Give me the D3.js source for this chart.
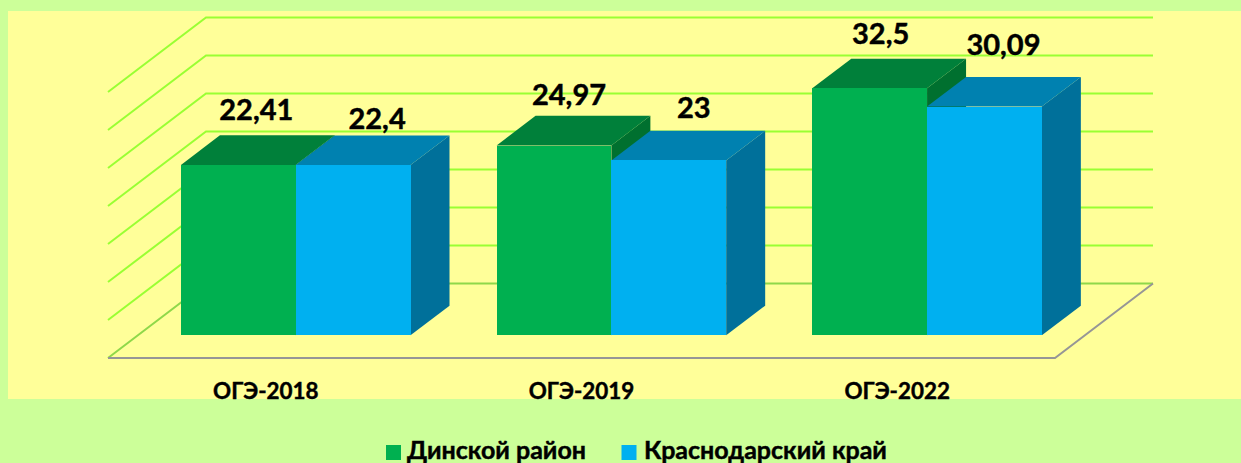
<!DOCTYPE html>
<html><head><meta charset="utf-8">
<script src="https://cdn.jsdelivr.net/npm/d3@7"></script>
<style>html,body{margin:0;padding:0;background:#CCFF99;overflow:hidden}svg{display:block}text{font-family:Lato,"Open Sans",sans-serif;font-weight:700;fill:#000;stroke:#000;stroke-width:.45px}</style>
</head><body><svg id="c" width="1241" height="463"></svg>
<script>
const categories = ["ОГЭ-2018", "ОГЭ-2019", "ОГЭ-2022"];
const seriesNames = ["Динской район", "Краснодарский край"];
const dinskoy = [22.41, 24.97, 32.5];
const krasnodar = [22.4, 23, 30.09];
const valueLabels = [["22,41","24,97","32,5"],["22,4","23","30,09"]];
const yTicks = [0,5,10,15,20,25,30,35];

const seriesValues = [dinskoy, krasnodar];
const front = ["#00B050", "#00B0F0"], topC = ["#00803A", "#0081B0"], side = ["#00702F", "#00709A"];
const labelNudge = [[[18,-45],[15,-41],[11,-44]],[[24,-36],[25,-42],[19,-52]]];

const svg = d3.select("#c");
svg.append("rect").attr("x",8).attr("y",11).attr("width",1233).attr("height",388).attr("fill","#FFFF99");

const x0 = d3.scaleBand().domain(categories).range([108,1055]);
const x1 = d3.scaleBand().domain([0,1]).range([0,x0.bandwidth()]).paddingInner(0).paddingOuter(0.375);
const y = d3.scaleLinear().domain([0,35]).range([358,92]);
const DX = 98, DY = -74.5;
const P = (px,py,z)=>[px+DX*z, py+DY*z];
const line = d3.line();

yTicks.forEach(t=>{
  const pts=[P(108,y(t),0),P(108,y(t),1),P(1055,y(t),1)];
  svg.append("path").attr("d",line(pts)).attr("fill","none").attr("stroke",t===0?"#8FD84A":"#99FF33").attr("stroke-width",2);
});
svg.append("path").attr("d",line([P(108,y(0),0),P(1055,y(0),0),P(1055,y(0),1)])).attr("fill","none").attr("stroke","#969696").attr("stroke-width",2);

const z0=0.305, z1=0.703;
categories.forEach((c,i)=>{
  seriesValues.forEach((vals,s)=>{
    const a=x0(c)+x1(s), b=a+x1.bandwidth(), v=y(vals[i]), base=y(0);
    const g=svg.append("g");
    g.append("path").attr("d",line([P(b,base,z0),P(b,base,z1),P(b,v,z1),P(b,v,z0)])+"Z").attr("fill",side[s]);
    g.append("path").attr("d",line([P(a,v,z0),P(b,v,z0),P(b,v,z1),P(a,v,z1)])+"Z").attr("fill",topC[s]);
    const f0=P(a,v,z0), f1=P(b,base,z0);
    g.append("rect").attr("x",f0[0]).attr("y",f0[1]).attr("width",f1[0]-f0[0]).attr("height",f1[1]-f0[1]).attr("fill",front[s]).attr("shape-rendering","crispEdges");
  });
});
categories.forEach((c,i)=>{
  seriesValues.forEach((vals,s)=>{
    const a=x0(c)+x1(s), f0=P(a,y(vals[i]),z0), n=labelNudge[s][i];
    svg.append("text").attr("x",f0[0]+x1.bandwidth()/2+n[0]).attr("y",f0[1]+n[1])
      .attr("text-anchor","middle").attr("font-size",29).text(valueLabels[s][i]);
  });
});
const ax=svg.append("g").attr("transform","translate(0,358)").call(d3.axisBottom(x0).tickSize(0).tickPadding(0));
ax.select(".domain").remove();
ax.selectAll("text").attr("dy",0).attr("y",41).style("font-size","22.4px").style("font-family",'Lato,"Open Sans",sans-serif');
const legX=[386,621.5], txtX=[407,644];
seriesNames.forEach((n,s)=>{
  svg.append("rect").attr("x",legX[s]).attr("y",445).attr("width",15).attr("height",15).attr("fill",front[s]);
  svg.append("text").attr("x",txtX[s]).attr("y",459).attr("font-size",25).text(n);
});
</script></body></html>
